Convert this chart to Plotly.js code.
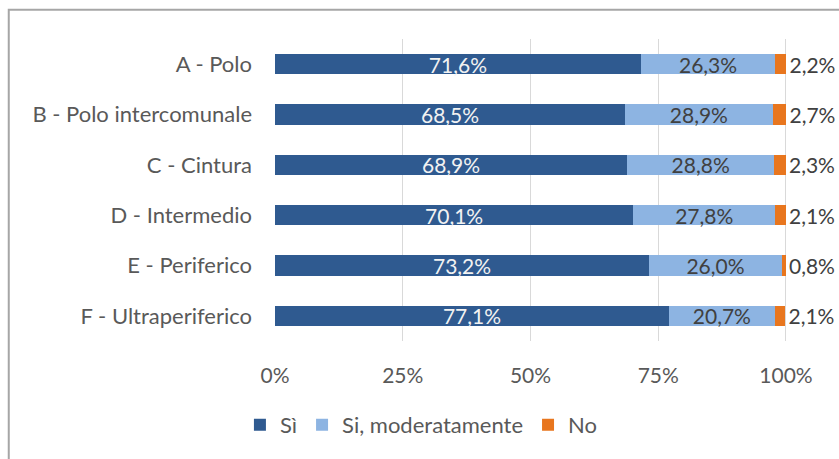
<!DOCTYPE html>
<html>
<head>
<meta charset="utf-8">
<script src="https://cdn.plot.ly/plotly-3.0.1.min.js"></script>
<style>html,body{margin:0;padding:0;background:#fff;}#chart{width:839px;height:459px;}</style>
</head>
<body>
<div id="chart"></div>
<script>
const categories = ["A - Polo", "B - Polo intercomunale", "C - Cintura", "D - Intermedio", "E - Periferico", "F - Ultraperiferico"];
const si = [71.6, 68.5, 68.9, 70.1, 73.2, 77.1];
const siModeratamente = [26.3, 28.9, 28.8, 27.8, 26.0, 20.7];
const no = [2.2, 2.7, 2.3, 2.1, 0.8, 2.1];
const seriesNames = ["Sì", "Si, moderatamente", "No"];
const tickValues = [0, 25, 50, 75, 100];
const tickLabels = ["0%", "25%", "50%", "75%", "100%"];

const FONT = "Lato, 'Open Sans', sans-serif";
const common = {
  type: "bar", orientation: "h", y: categories,
  texttemplate: "%{x:.1f}%", hoverinfo: "skip", cliponaxis: false,
  constraintext: "none"
};
const traces = [
  Object.assign({}, common, {x: si, name: seriesNames[0], marker: {color: "#2F5A90"},
    textposition: "inside", insidetextanchor: "middle",
    insidetextfont: {color: "#F2F2F2", size: 21, family: FONT}}),
  Object.assign({}, common, {x: siModeratamente, name: seriesNames[1], marker: {color: "#8DB4E2"},
    textposition: "inside", insidetextanchor: "middle",
    insidetextfont: {color: "#404040", size: 21, family: FONT}}),
  Object.assign({}, common, {x: no, name: seriesNames[2], marker: {color: "#E8761E"},
    textposition: "outside",
    outsidetextfont: {color: "#404040", size: 21, family: FONT}})
];

const layout = {
  width: 839, height: 459,
  margin: {l: 275, r: 52, t: 39, b: 118},
  barmode: "stack", bargap: 0.6,
  separators: ",.",
  paper_bgcolor: "#ffffff", plot_bgcolor: "#ffffff",
  font: {family: FONT, size: 22, color: "#595959"},
  showlegend: true,
  legend: {orientation: "h", x: -0.0685, xanchor: "left", y: -0.278, yanchor: "middle",
    traceorder: "normal", font: {size: 22, color: "#595959", family: FONT}, itemclick: false},
  xaxis: {range: [0, 100.2], tickmode: "array", tickvals: tickValues, ticktext: tickLabels,
    showgrid: true, gridcolor: "#D9D9D9", gridwidth: 1, zeroline: false, showline: false, ticks: "",
    tickfont: {size: 21}, ticklabelstandoff: 20, fixedrange: true},
  yaxis: {autorange: "reversed", showgrid: false, zeroline: false, showline: false, ticks: "",
    ticklabelstandoff: 22, fixedrange: true},
  shapes: [{type: "rect", xref: "paper", yref: "paper", x0: -0.52, x1: 2, y0: -1, y1: 1.097,
    line: {color: "#A6A6A6", width: 2}, fillcolor: "rgba(0,0,0,0)", layer: "below"}]
};
Plotly.newPlot("chart", traces, layout, {displayModeBar: false, staticPlot: true});
</script>
</body>
</html>
